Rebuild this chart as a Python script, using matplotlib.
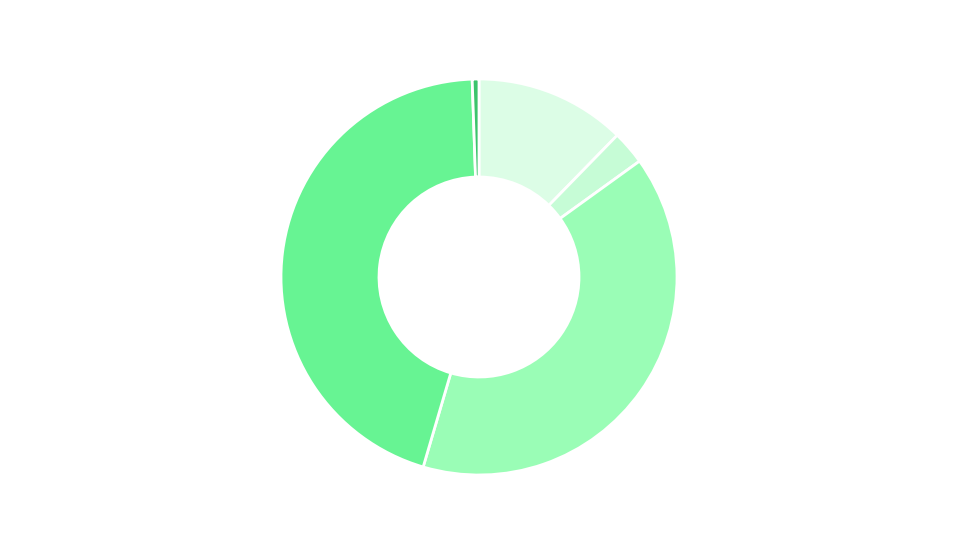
import matplotlib
matplotlib.use("Agg")
import matplotlib.pyplot as plt

# slices clockwise from 12 o'clock
labels = ["A", "B", "C", "D", "E"]
values = [12.3, 2.75, 39.5, 44.9, 0.55]
colors = ["#dcfde6", "#c6fcd6", "#9afdb6", "#67f493", "#3cc46c"]

fig = plt.figure(figsize=(9.6, 5.4), dpi=100)

cx, cy, r = 479, 277, 198
ax = fig.add_axes([(cx - r) / 960, (540 - cy - r) / 540, 2 * r / 960, 2 * r / 540])

ax.pie(values, colors=colors, startangle=90, counterclock=False, radius=1,
       wedgeprops=dict(width=(198 - 100) / 198, edgecolor="white", linewidth=2))
ax.set_xlim(-1, 1)
ax.set_ylim(-1, 1)
ax.set_aspect("equal")
ax.axis("off")

fig.savefig("out.png", dpi=100, facecolor="white")
